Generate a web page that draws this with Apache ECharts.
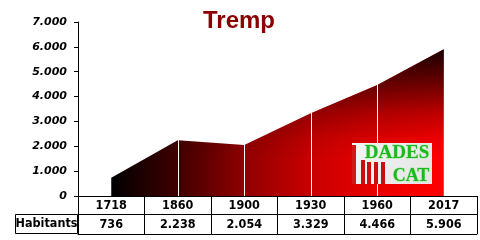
<!DOCTYPE html>
<html><head><meta charset="utf-8">
<script src="https://cdn.jsdelivr.net/npm/echarts@6/dist/echarts.min.js"></script>
<style>html,body{margin:0;padding:0;background:#fff}#c{width:480px;height:240px}</style>
</head><body><div id="c"></div>
<script>
const chartTitle = 'Tremp';
const years = ['1718', '1860', '1900', '1930', '1960', '2017'];
const habitants = [736, 2238, 2054, 3329, 4466, 5906];
const rowLabel = 'Habitants';
const yMin = 0, yMax = 7000, yStep = 1000;
const splitYears = ['1860', '1900', '1930', '1960'];

function fmt(n) { return String(n).replace(/\B(?=(\d{3})+(?!\d))/g, '.'); }

const tableFont = { fontFamily: "'DejaVu Sans Condensed','DejaVu Sans',sans-serif", fontWeight: 'bold', fontSize: 12.5, color: '#000' };

const chart = echarts.init(document.getElementById('c'), null, { renderer: 'canvas' });
chart.setOption({
  animation: false,
  backgroundColor: '#fff',
  title: {
    text: chartTitle, left: 198, top: 4,
    textStyle: { fontFamily: "'Liberation Sans',Arial,sans-serif", fontWeight: 'bold', fontSize: 24, color: '#8b0000',
      textShadowColor: '#2a0000', textShadowOffsetX: 1, textShadowOffsetY: 1, textShadowBlur: 0 }
  },
  grid: { left: 78, right: 3, top: 22, bottom: 44, containLabel: false },
  xAxis: [
    { type: 'category', data: years, position: 'bottom', boundaryGap: true,
      axisLine: { show: true, lineStyle: { color: '#000', width: 1 } },
      axisTick: { show: true, length: 18, interval: 0, lineStyle: { color: '#000' } },
      axisLabel: Object.assign({ interval: 0, margin: 3 }, tableFont),
      splitLine: { show: false } },
    { type: 'category', data: years, position: 'bottom', offset: 18, boundaryGap: true,
      axisLine: { show: true, lineStyle: { color: '#000', width: 1 } },
      axisTick: { show: true, length: 20, interval: 0, lineStyle: { color: '#000' } },
      axisLabel: Object.assign({ interval: 0, margin: 4, formatter: (v, i) => fmt(habitants[i]) }, tableFont),
      splitLine: { show: false } },
    { type: 'category', data: years, position: 'bottom', offset: 38, boundaryGap: true,
      axisLine: { show: true, lineStyle: { color: '#000', width: 1 } },
      axisTick: { show: false }, axisLabel: { show: false }, splitLine: { show: false } }
  ],
  yAxis: {
    type: 'value', min: yMin, max: yMax, interval: yStep,
    axisLine: { show: true, lineStyle: { color: '#000', width: 1 } },
    axisTick: { show: true, length: 4, lineStyle: { color: '#000' } },
    axisLabel: { margin: 11, formatter: v => fmt(v), fontFamily: "'DejaVu Sans',sans-serif", fontWeight: 'bold', fontStyle: 'italic', fontSize: 11, color: '#000' },
    splitLine: { show: false }
  },
  series: [
    { type: 'line', data: habitants, xAxisIndex: 0, showSymbol: false, symbol: 'none',
      lineStyle: { width: 0 },
      areaStyle: { opacity: 1, color: new echarts.graphic.LinearGradient(0, 0, 1, 0, [
        { offset: 0, color: '#000000' }, { offset: 0.2, color: '#400000' }, { offset: 0.4, color: '#900000' },
        { offset: 0.6, color: '#c80000' }, { offset: 0.8, color: '#ea0000' }, { offset: 1, color: '#ff0000' } ]) } },
    { type: 'line', data: habitants, xAxisIndex: 0, showSymbol: false, symbol: 'none',
      lineStyle: { width: 0 },
      areaStyle: { opacity: 1, color: new echarts.graphic.LinearGradient(0, 0, 0, 1, [
        { offset: 0, color: 'rgba(0,0,0,0.9)' }, { offset: 0.24, color: 'rgba(0,0,0,0.57)' },
        { offset: 0.44, color: 'rgba(0,0,0,0.25)' }, { offset: 0.62, color: 'rgba(0,0,0,0.06)' },
        { offset: 0.75, color: 'rgba(0,0,0,0)' }, { offset: 1, color: 'rgba(0,0,0,0)' } ]) },
      markLine: { silent: true, symbol: 'none', label: { show: false },
        lineStyle: { color: '#fff', width: 1, type: 'solid' },
        data: splitYears.map(y => ({ xAxis: y })) } }
  ],
  graphic: [
    { type: 'rect', z: 100, shape: { x: 15.5, y: 214.5, width: 62, height: 19 }, style: { fill: 'none', stroke: '#000', lineWidth: 1 } },
    { type: 'text', z: 100, x: 46.5, y: 224, style: Object.assign({ text: rowLabel, textAlign: 'center', textVerticalAlign: 'middle',
        font: "bold 12.5px 'DejaVu Sans Condensed','DejaVu Sans',sans-serif", fill: '#000' }) },
    { type: 'group', z: 100, children: [
      { type: 'rect', z: 100, shape: { x: 352, y: 143, width: 80, height: 41 },
        style: { fill: new echarts.graphic.LinearGradient(0, 0, 1, 1, [{ offset: 0, color: '#f4f4f4' }, { offset: 1, color: '#e4e4e4' }]) } },
      { type: 'rect', z: 101, shape: { x: 352, y: 145, width: 4, height: 39 }, style: { fill: '#d01818' } },
      { type: 'rect', z: 101, shape: { x: 361, y: 160, width: 4, height: 24 }, style: { fill: '#c81010' } },
      { type: 'rect', z: 101, shape: { x: 367, y: 162, width: 4, height: 22 }, style: { fill: '#c81010' } },
      { type: 'rect', z: 101, shape: { x: 374, y: 162, width: 4, height: 22 }, style: { fill: '#c81010' } },
      { type: 'rect', z: 101, shape: { x: 381, y: 162, width: 4, height: 22 }, style: { fill: '#c81010' } },
      { type: 'text', z: 102, x: 397, y: 153, style: { text: 'DADES', textAlign: 'center', textVerticalAlign: 'middle',
        font: "bold 19px 'Liberation Serif','DejaVu Serif',serif", fill: '#1cb81c', stroke: '#a8e8a8', lineWidth: 1 } },
      { type: 'text', z: 102, x: 411, y: 176, style: { text: 'CAT', textAlign: 'center', textVerticalAlign: 'middle',
        font: "bold 18px 'Liberation Serif','DejaVu Serif',serif", fill: '#1cb81c', stroke: '#a8e8a8', lineWidth: 1 } }
    ] }
  ]
});
</script></body></html>
